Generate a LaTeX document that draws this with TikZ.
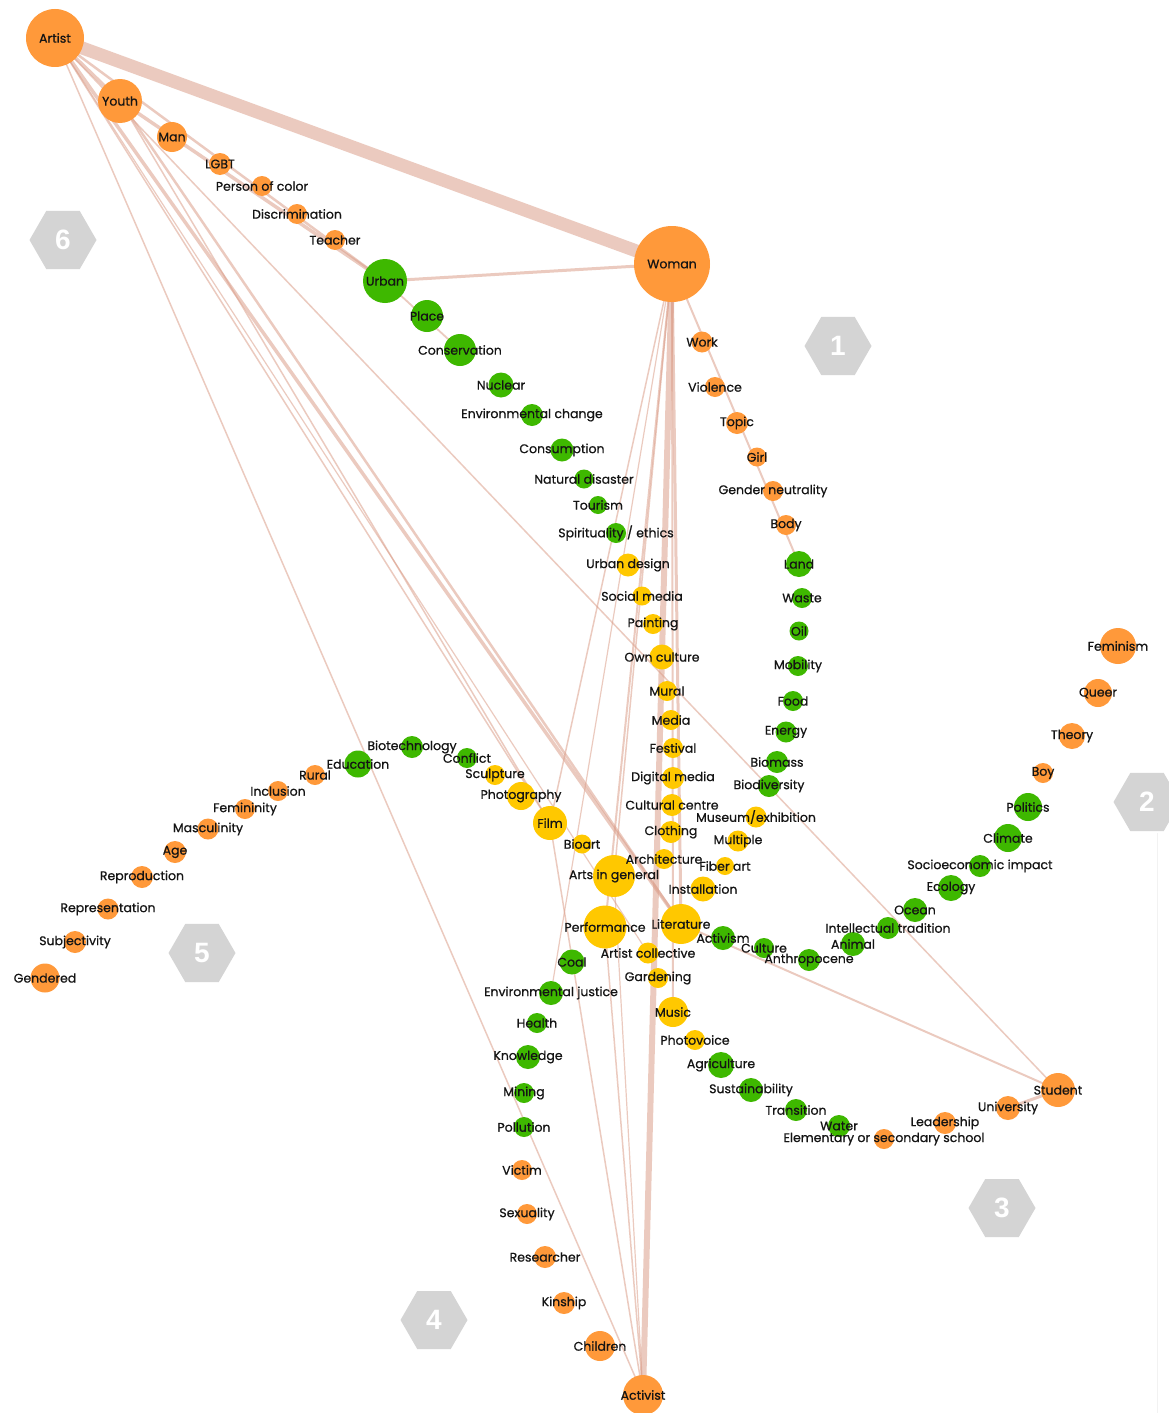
\documentclass[tikz,border=0pt]{standalone}
\usepackage{fontspec}
\newfontfamily\lblfamily[FakeBold=0.7]{Poppins}
\newfontfamily\hexfamily{Liberation Sans}
\usetikzlibrary{shapes.geometric,backgrounds}
\definecolor{cOr}{RGB}{255,153,58}
\definecolor{cGr}{RGB}{62,184,0}
\definecolor{cYe}{RGB}{255,200,0}
\definecolor{cEd}{RGB}{220,160,140}
\definecolor{cHex}{RGB}{212,212,212}
\begin{document}
\begin{tikzpicture}[x=1pt,y=-1pt,
  dot/.style={circle,inner sep=0pt,minimum size=#1},
  og/.style={dot=#1,fill=cOr},
  gr/.style={dot=#1,fill=cGr},
  ye/.style={dot=#1,fill=cYe},
  lbl/.style={font=\lblfamily\fontsize{12.5}{13}\selectfont,text=black!92,inner sep=0pt},
  ed/.style={draw=cEd,line width=#1,opacity=0.55},
  hexa/.style={regular polygon,regular polygon sides=6,minimum size=67pt,fill=cHex,inner sep=0pt,
    text=white,font=\hexfamily\bfseries\fontsize{28}{28}\selectfont}]
\useasboundingbox (0,0) rectangle (1169,1413);
% ---------- hexagons ----------
\node[hexa] (hex1) at (838,346) {1};
\node[hexa] (hex2) at (1147,802) {2};
\node[hexa] (hex3) at (1002,1208) {3};
\node[hexa] (hex4) at (434,1320) {4};
\node[hexa] (hex5) at (202,953) {5};
\node[hexa] (hex6) at (63,240) {6};
% ---------- nodes ----------
\node[og=58pt] (artist) at (55,38) {};
\node[og=44pt] (youth) at (120,101) {};
\node[og=30pt] (man) at (172,137) {};
\node[og=22pt] (lgbt) at (220,164) {};
\node[og=20pt] (poc) at (262,186) {};
\node[og=20pt] (disc) at (297,214) {};
\node[og=20pt] (teacher) at (335,240) {};
\node[gr=44pt] (urban) at (385,281) {};
\node[og=76pt] (woman) at (672,264) {};
\node[gr=32pt] (place) at (427,316) {};
\node[gr=32pt] (conserv) at (460,350) {};
\node[gr=25pt] (nuclear) at (501,385) {};
\node[gr=22pt] (envch) at (532,415) {};
\node[gr=23pt] (consum) at (562,450) {};
\node[gr=19pt] (natdis) at (584,479) {};
\node[gr=18pt] (tourism) at (598,505) {};
\node[gr=20pt] (spirit) at (616,533) {};
\node[ye=23pt] (urbdes) at (628,565) {};
\node[ye=19pt] (socmed) at (642,596) {};
\node[ye=20pt] (paint) at (653,624) {};
\node[ye=25pt] (owncult) at (662,657) {};
\node[ye=20pt] (mural) at (667,691) {};
\node[ye=20pt] (media) at (671,720) {};
\node[ye=20pt] (fest) at (673,748) {};
\node[ye=22pt] (digmed) at (673,778) {};
\node[ye=22pt] (cultc) at (672,805) {};
\node[ye=22pt] (cloth) at (671,832) {};
\node[ye=20pt] (arch) at (664,859) {};
\node[ye=25pt] (install) at (703,889) {};
\node[ye=18pt] (fiber) at (725,866) {};
\node[ye=21pt] (multiple) at (738,841) {};
\node[ye=21pt] (museum) at (756,817) {};
\node[og=21pt] (work) at (702,342) {};
\node[og=20pt] (violence) at (715,387) {};
\node[og=22pt] (topic) at (737,423) {};
\node[og=19pt] (girl) at (757,457) {};
\node[og=20pt] (gendn) at (773,491) {};
\node[og=20pt] (body) at (786,525) {};
\node[gr=26pt] (land) at (799,564) {};
\node[gr=20pt] (waste) at (802,598) {};
\node[gr=19pt] (oil) at (799,631) {};
\node[gr=20pt] (mobil) at (798,666) {};
\node[gr=20pt] (food) at (793,701) {};
\node[gr=21pt] (energy) at (786,732) {};
\node[gr=22pt] (biomass) at (777,762) {};
\node[gr=22pt] (biodiv) at (769,786) {};
\node[og=36pt] (feminism) at (1118,646) {};
\node[og=28pt] (queer) at (1098,693) {};
\node[og=26pt] (theory) at (1072,736) {};
\node[og=20pt] (boy) at (1043,773) {};
\node[gr=28pt] (politics) at (1028,807) {};
\node[gr=28pt] (climate) at (1008,838) {};
\node[gr=22pt] (socio) at (980,866) {};
\node[gr=26pt] (ecology) at (951,888) {};
\node[gr=24pt] (ocean) at (915,910) {};
\node[gr=22pt] (intel) at (888,928) {};
\node[gr=24pt] (animal) at (853,944) {};
\node[gr=22pt] (anthro) at (809,960) {};
\node[gr=20pt] (culture) at (764,948) {};
\node[gr=24pt] (activism) at (723,938) {};
\node[ye=40pt] (literature) at (681,924) {};
\node[ye=43pt] (perf) at (605,927) {};
\node[ye=42pt] (arts) at (614,876) {};
\node[ye=34pt] (film) at (550,823) {};
\node[ye=19pt] (bioart) at (582,844) {};
\node[ye=28pt] (photo) at (521,796) {};
\node[ye=20pt] (sculpt) at (495,775) {};
\node[ye=21pt] (artcoll) at (648,953) {};
\node[ye=20pt] (garden) at (658,978) {};
\node[ye=30pt] (music) at (673,1012) {};
\node[ye=20pt] (photovoice) at (695,1040) {};
\node[gr=20pt] (conflict) at (467,758) {};
\node[gr=22pt] (biotech) at (412,747) {};
\node[gr=27pt] (educ) at (358,764) {};
\node[gr=25pt] (coal) at (572,962) {};
\node[gr=24pt] (envjust) at (551,993) {};
\node[gr=20pt] (health) at (537,1023) {};
\node[gr=24pt] (knowl) at (528,1057) {};
\node[gr=20pt] (mining) at (524,1093) {};
\node[gr=20pt] (pollut) at (524,1127) {};
\node[gr=26pt] (agri) at (721,1065) {};
\node[gr=24pt] (sustain) at (751,1090) {};
\node[gr=22pt] (transit) at (796,1110) {};
\node[gr=22pt] (water) at (839,1126) {};
\node[og=20pt] (elem) at (884,1139) {};
\node[og=22pt] (leader) at (945,1123) {};
\node[og=24pt] (univ) at (1008,1108) {};
\node[og=34pt] (student) at (1058,1090) {};
\node[og=20pt] (rural) at (315,775) {};
\node[og=20pt] (inclus) at (278,791) {};
\node[og=20pt] (femin) at (245,809) {};
\node[og=21pt] (mascul) at (208,829) {};
\node[og=22pt] (age) at (175,852) {};
\node[og=22pt] (reprod) at (142,877) {};
\node[og=21pt] (repres) at (108,909) {};
\node[og=22pt] (subj) at (75,942) {};
\node[og=29pt] (gendered) at (45,978) {};
\node[og=20pt] (victim) at (522,1170) {};
\node[og=20pt] (sexual) at (527,1214) {};
\node[og=22pt] (research) at (545,1257) {};
\node[og=22pt] (kinship) at (564,1303) {};
\node[og=30pt] (children) at (600,1346) {};
\node[og=40pt] (activist) at (643,1395) {};
% ---------- connectors ----------
\begin{scope}[on background layer]
\fill[white] (0,0) rectangle (1169,1413);
\draw[gray!10,line width=1pt] (1157,833) -- (1157,1413);
\draw[ed=13pt] (artist.center) -- (woman.center);
\draw[ed=3.5pt] (artist.center) -- (youth.center);
\draw[ed=2.5pt] (artist.center) -- (urban.center);
\draw[ed=3.5pt] (youth.center) -- (urban.center);
\draw[ed=3pt] (urban.center) -- (woman.center);
\draw[ed=1.8pt] (urban.center) -- (conserv.center);
\draw[ed=2pt] (woman.center) -- (land.center);
\draw[ed=6pt] (woman.center) -- (activist.center);
\draw[ed=3pt] (woman.center) -- (literature.center);
\draw[ed=2pt] (woman.center) -- (music.center);
\draw[ed=2pt] (woman.center) -- (perf.center);
\draw[ed=1.5pt] (woman.center) -- (arts.center);
\draw[ed=1.5pt] (woman.center) -- (film.center);
\draw[ed=1.2pt] (woman.center) -- (envjust.center);
\draw[ed=1.5pt] (artist.center) -- (activist.center);
\draw[ed=3.5pt] (artist.center) -- (literature.center);
\draw[ed=2.5pt] (youth.center) -- (literature.center);
\draw[ed=1.5pt] (artist.center) -- (film.center);
\draw[ed=1.5pt] (youth.center) -- (film.center);
\draw[ed=1.5pt] (artist.center) -- (student.center);
\draw[ed=2pt] (literature.center) -- (student.center);
\draw[ed=3pt] (student.center) -- (univ.center);
\draw[ed=1.5pt] (film.center) -- (activist.center);
\draw[ed=1.5pt] (perf.center) -- (activist.center);
\draw[ed=1.2pt] (arts.center) -- (activist.center);
\draw[ed=1.2pt] (artist.center) -- (artcoll.center);
\end{scope}
% ---------- labels ----------
\node[lbl] (artist-t) at (artist) {Artist};
\node[lbl] (youth-t) at (youth) {Youth};
\node[lbl] (man-t) at (man) {Man};
\node[lbl] (lgbt-t) at (lgbt) {LGBT};
\node[lbl] (poc-t) at (poc) {Person of color};
\node[lbl] (disc-t) at (disc) {Discrimination};
\node[lbl] (teacher-t) at (teacher) {Teacher};
\node[lbl] (urban-t) at (urban) {Urban};
\node[lbl] (woman-t) at (woman) {Woman};
\node[lbl] (place-t) at (place) {Place};
\node[lbl] (conserv-t) at (conserv) {Conservation};
\node[lbl] (nuclear-t) at (nuclear) {Nuclear};
\node[lbl] (envch-t) at (envch) {Environmental change};
\node[lbl] (consum-t) at (consum) {Consumption};
\node[lbl] (natdis-t) at (natdis) {Natural disaster};
\node[lbl] (tourism-t) at (tourism) {Tourism};
\node[lbl] (spirit-t) at (spirit) {Spirituality / ethics};
\node[lbl] (urbdes-t) at (urbdes) {Urban design};
\node[lbl] (socmed-t) at (socmed) {Social media};
\node[lbl] (paint-t) at (paint) {Painting};
\node[lbl] (owncult-t) at (owncult) {Own culture};
\node[lbl] (mural-t) at (mural) {Mural};
\node[lbl] (media-t) at (media) {Media};
\node[lbl] (fest-t) at (fest) {Festival};
\node[lbl] (digmed-t) at (digmed) {Digital media};
\node[lbl] (cultc-t) at (cultc) {Cultural centre};
\node[lbl] (cloth-t) at (cloth) {Clothing};
\node[lbl] (arch-t) at (arch) {Architecture};
\node[lbl] (install-t) at (install) {Installation};
\node[lbl] (fiber-t) at (fiber) {Fiber art};
\node[lbl] (multiple-t) at (multiple) {Multiple};
\node[lbl] (museum-t) at (museum) {Museum/exhibition};
\node[lbl] (work-t) at (work) {Work};
\node[lbl] (violence-t) at (violence) {Violence};
\node[lbl] (topic-t) at (topic) {Topic};
\node[lbl] (girl-t) at (girl) {Girl};
\node[lbl] (gendn-t) at (gendn) {Gender neutrality};
\node[lbl] (body-t) at (body) {Body};
\node[lbl] (land-t) at (land) {Land};
\node[lbl] (waste-t) at (waste) {Waste};
\node[lbl] (oil-t) at (oil) {Oil};
\node[lbl] (mobil-t) at (mobil) {Mobility};
\node[lbl] (food-t) at (food) {Food};
\node[lbl] (energy-t) at (energy) {Energy};
\node[lbl] (biomass-t) at (biomass) {Biomass};
\node[lbl] (biodiv-t) at (biodiv) {Biodiversity};
\node[lbl] (feminism-t) at (feminism) {Feminism};
\node[lbl] (queer-t) at (queer) {Queer};
\node[lbl] (theory-t) at (theory) {Theory};
\node[lbl] (boy-t) at (boy) {Boy};
\node[lbl] (politics-t) at (politics) {Politics};
\node[lbl] (climate-t) at (climate) {Climate};
\node[lbl] (socio-t) at (socio) {Socioeconomic impact};
\node[lbl] (ecology-t) at (ecology) {Ecology};
\node[lbl] (ocean-t) at (ocean) {Ocean};
\node[lbl] (intel-t) at (intel) {Intellectual tradition};
\node[lbl] (animal-t) at (animal) {Animal};
\node[lbl] (anthro-t) at (anthro) {Anthropocene};
\node[lbl] (culture-t) at (culture) {Culture};
\node[lbl] (activism-t) at (activism) {Activism};
\node[lbl] (literature-t) at (literature) {Literature};
\node[lbl] (perf-t) at (perf) {Performance};
\node[lbl] (arts-t) at (arts) {Arts in general};
\node[lbl] (film-t) at (film) {Film};
\node[lbl] (bioart-t) at (bioart) {Bioart};
\node[lbl] (photo-t) at (photo) {Photography};
\node[lbl] (sculpt-t) at (sculpt) {Sculpture};
\node[lbl] (artcoll-t) at (artcoll) {Artist collective};
\node[lbl] (garden-t) at (garden) {Gardening};
\node[lbl] (music-t) at (music) {Music};
\node[lbl] (photovoice-t) at (photovoice) {Photovoice};
\node[lbl] (conflict-t) at (conflict) {Conflict};
\node[lbl] (biotech-t) at (biotech) {Biotechnology};
\node[lbl] (educ-t) at (educ) {Education};
\node[lbl] (coal-t) at (coal) {Coal};
\node[lbl] (envjust-t) at (envjust) {Environmental justice};
\node[lbl] (health-t) at (health) {Health};
\node[lbl] (knowl-t) at (knowl) {Knowledge};
\node[lbl] (mining-t) at (mining) {Mining};
\node[lbl] (pollut-t) at (pollut) {Pollution};
\node[lbl] (agri-t) at (agri) {Agriculture};
\node[lbl] (sustain-t) at (sustain) {Sustainability};
\node[lbl] (transit-t) at (transit) {Transition};
\node[lbl] (water-t) at (water) {Water};
\node[lbl] (elem-t) at (elem) {Elementary or secondary school};
\node[lbl] (leader-t) at (leader) {Leadership};
\node[lbl] (univ-t) at (univ) {University};
\node[lbl] (student-t) at (student) {Student};
\node[lbl] (rural-t) at (rural) {Rural};
\node[lbl] (inclus-t) at (inclus) {Inclusion};
\node[lbl] (femin-t) at (femin) {Femininity};
\node[lbl] (mascul-t) at (mascul) {Masculinity};
\node[lbl] (age-t) at (age) {Age};
\node[lbl] (reprod-t) at (reprod) {Reproduction};
\node[lbl] (repres-t) at (repres) {Representation};
\node[lbl] (subj-t) at (subj) {Subjectivity};
\node[lbl] (gendered-t) at (gendered) {Gendered};
\node[lbl] (victim-t) at (victim) {Victim};
\node[lbl] (sexual-t) at (sexual) {Sexuality};
\node[lbl] (research-t) at (research) {Researcher};
\node[lbl] (kinship-t) at (kinship) {Kinship};
\node[lbl] (children-t) at (children) {Children};
\node[lbl] (activist-t) at (activist) {Activist};
\end{tikzpicture}
\end{document}
